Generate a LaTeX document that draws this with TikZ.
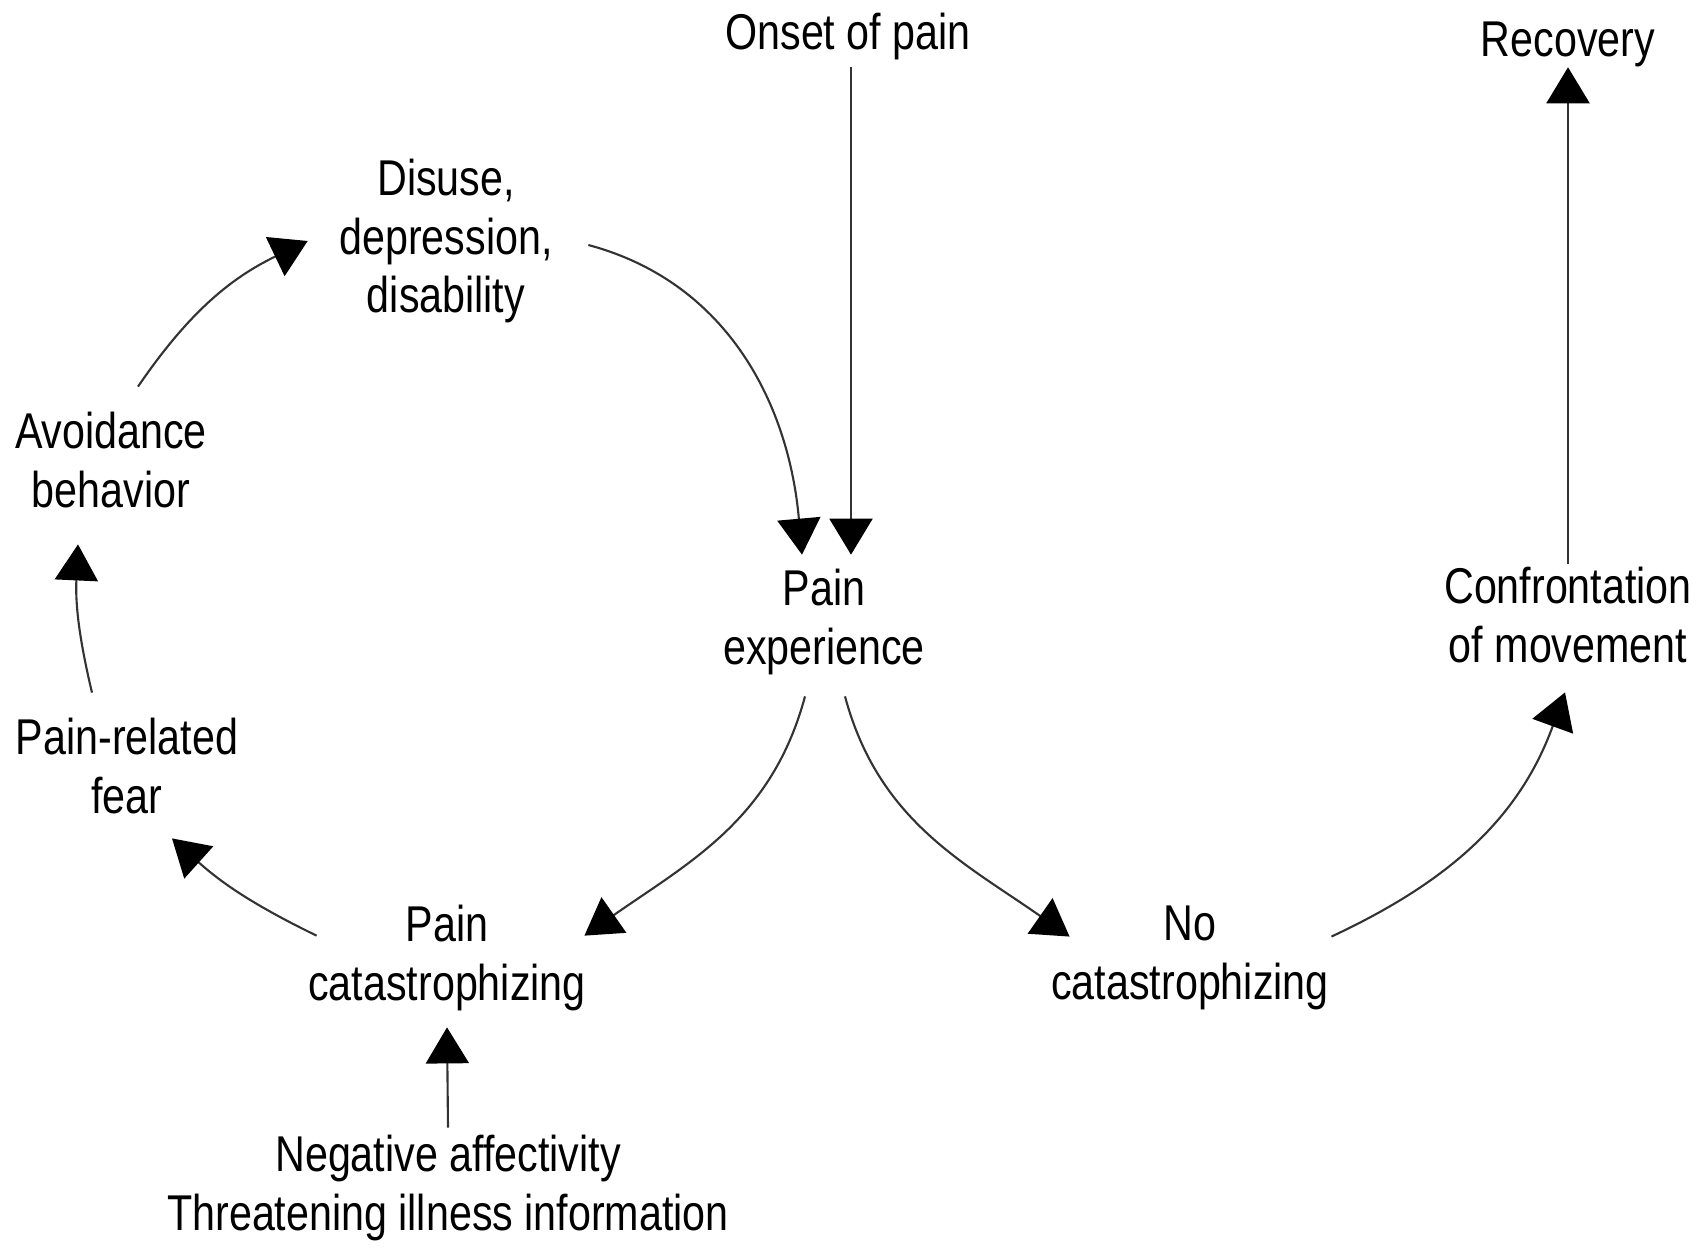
\documentclass[tikz,border=0pt]{standalone}
\usepackage{fontspec}
\setmainfont{Liberation Sans}[FakeStretch=0.82]
\usetikzlibrary{arrows.meta,calc}

\begin{document}
\begin{tikzpicture}[x=0.01cm,y=0.01cm,
  lbl/.style={align=center,inner sep=2pt,font=\fontsize{14.3}{16.6}\selectfont},
  arr/.style={draw=black!80,line width=0.6pt,-{Triangle[width=0.43cm,length=0.36cm,color=black]}}]
\useasboundingbox (0,0) rectangle (1704,1247);
\node[lbl] (onset) at (848,1211) {Onset of pain};
\node[lbl] (recov) at (1568,1203) {Recovery};
\node[lbl] (disuse) at (446,1006) {Disuse,\\depression,\\disability};
\node[lbl] (avoid) at (111,787) {Avoidance\\behavior};
\node[lbl] (exp) at (824,625) {Pain\\experience};
\node[lbl] (confr) at (1568,632) {Confrontation\\of movement};
\node[lbl] (fear) at (127,481) {Pain-related\\fear};
\node[lbl] (cata) at (447,289) {Pain\\catastrophizing};
\node[lbl] (nocata) at (1190,289) {No\\catastrophizing};
\node[lbl] (neg) at (448,59) {Negative affectivity\\Threatening illness information};
\draw[arr] ($(onset.south)+(3,0)$) -- ($(exp.north)+(27,7)$);
\draw[arr] ($(disuse.east)+(28,-4)$) to[out=-15,in=95] ($(exp.north)+(-22,7)$);
\draw[arr] ($(exp.south)+(-19,-14)$) to[out=-105,in=35] ($(cata.north east)+(-9,-38)$);
\draw[arr] ($(exp.south)+(21,-14)$) to[out=-75,in=145] ($(nocata.north west)+(26,-38)$);
\draw[arr] ($(nocata.north east)+(-5,-38)$) to[out=25,in=-110] ($(confr.south)+(-3,-22)$);
\draw[arr] ($(confr.north)+(0,-4)$) -- ($(recov.south)+(0,7)$);
\draw[arr] ($(cata.north west)+(16,-38)$) to[bend left=8] ($(fear.south)+(45,-17)$);
\draw[arr] ($(fear.north)+(-35,18)$) to[bend left=8] ($(avoid.south)+(-33,-29)$);
\draw[arr] ($(avoid.north)+(27,18)$) to[bend left=15] ($(disuse.west)+(-24,0)$);
\draw[arr] (neg.north) -- ($(cata.south)+(0,-9)$);
\end{tikzpicture}
\end{document}
